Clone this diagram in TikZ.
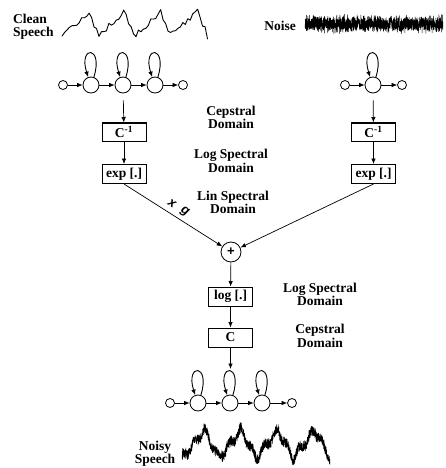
\documentclass[tikz,border=0pt]{standalone}
\usepackage{fontspec}
\setmainfont{Liberation Serif}
\newfontfamily\labsans{Liberation Sans}
\usetikzlibrary{arrows.meta}
\begin{document}
\begin{tikzpicture}[x=1pt,y=-1pt,
  declare function={
    ph(\xx,\pp)=mod(\xx,\pp)/\pp;
    sawv(\qq,\rr)=(\qq<\rr)?(\qq/\rr):((1-\qq)/(1-\rr));
  },
  lbl/.style={font=\fontsize{13.5}{13.5}\selectfont\bfseries, align=center, inner sep=0pt, anchor=base},
  state/.style={circle, draw, line width=0.8pt, minimum size=16pt, inner sep=0pt},
  endst/.style={circle, draw, line width=0.8pt, minimum size=9pt, inner sep=0pt},
  box/.style={draw, line width=1pt, minimum width=44pt, minimum height=19pt, inner sep=0pt,
              font=\fontsize{13.5}{13.5}\selectfont\bfseries},
  arr/.style={-{Latex[length=5.5pt,width=4.5pt]}, line width=0.7pt},
  selfloop/.style={arr, line width=0.9pt},
  gainlbl/.style={font=\labsans\fontsize{13}{13}\selectfont\bfseries\itshape, rotate=-33, inner sep=0pt},
  wave/.style={line join=round, line cap=round}
]
\useasboundingbox (0,0) rectangle (446,468);

% ---------- signals ----------
\pgfmathsetseed{11}
% multi-line labels: the base anchor sits on the last line
\node[lbl, align=left, anchor=base west] (cleanlbl) at (13,37) {Clean\\Speech};
\draw[wave, line width=0.9pt] plot[domain=62:207.5, samples=60]
  (\x, {36 - 24*sawv(ph(\x-62,36.4),0.72) + 3.6*rand});

\node[lbl] (noiselbl) at (280,31) {Noise};
\draw[wave, line width=0.5pt] plot[domain=305:443, samples=1200]
  (\x, {24 + (5+5*rnd)*rand});

\node[lbl] (noisylbl) at (155,463.5) {Noisy\\Speech};
\draw[wave, line width=0.5pt] plot[domain=182:330, samples=1400]
  (\x, {458 - 28*sawv(ph(\x-182,37),0.6) + 3.5*sin(\x*31) + (3.5+3*rnd)*rand});

% ---------- speech HMM ----------
\node[endst] (la0) at (63,85) {};
\node[state] (la1) at (91,85) {};
\node[state] (la2) at (123,85) {};
\node[state] (la3) at (155,85) {};
\node[endst] (la4) at (183,85) {};
\foreach \a/\b in {la0/la1,la1/la2,la2/la3,la3/la4} \draw[arr] (\a) -- (\b);
\foreach \s in {la1,la2,la3}
  \draw[selfloop] (\s.70) .. controls +(10,-32) and +(-10,-32) .. (\s.110);

% ---------- noise HMM ----------
\node[endst] (ra0) at (345,85) {};
\node[state] (ra1) at (373,85) {};
\node[endst] (ra2) at (402,85) {};
\draw[arr] (ra0) -- (ra1);
\draw[arr] (ra1) -- (ra2);
\draw[selfloop] (ra1.70) .. controls +(10,-32) and +(-10,-32) .. (ra1.110);

% ---------- transforms ----------
\node[box, minimum height=18pt] (lci) at (124,132) {C\textsuperscript{-1}};
\node[box] (lexp) at (124,174) {exp [.]};
\node[box, minimum height=18pt] (rci) at (373.5,132) {C\textsuperscript{-1}};
\node[box] (rexp) at (373.5,174) {exp [.]};

\draw[arr, shorten <=7pt] (la2) -- (lci);
\draw[arr, shorten <=7pt] (ra1) -- (rci);
\draw[arr] (lci) -- (lexp);
\draw[arr] (rci) -- (rexp);

\node[circle, draw, line width=0.8pt, minimum size=20pt, inner sep=0pt,
      font=\labsans\fontsize{13}{13}\selectfont\bfseries] (sum) at (231,252) {+};
\draw[arr] (lexp.south) -- (sum);
\draw[arr] (rexp.south) -- (sum);
% gain factor written along the speech branch
\node[gainlbl] (gainx) at (172,203.5) {x};
\node[gainlbl] (gaing) at (184.5,212) {g};

\node[box] (lg) at (230.5,296.5) {log [.]};
\node[box] (cc) at (230.5,337.5) {C};
\draw[arr] (sum) -- (lg);
\draw[arr] (lg) -- (cc);

% ---------- noisy speech HMM ----------
\node[endst] (b0) at (170,403) {};
\node[state] (b1) at (198,403) {};
\node[state] (b2) at (230,403) {};
\node[state] (b3) at (262,403) {};
\node[endst] (b4) at (292,403) {};
\foreach \a/\b in {b0/b1,b1/b2,b2/b3,b3/b4} \draw[arr] (\a) -- (\b);
\foreach \s in {b1,b2,b3}
  \draw[selfloop] (\s.70) .. controls +(10,-32) and +(-10,-32) .. (\s.110);
\coordinate (bin) at (230.5,369);
\draw[arr] (cc) -- (bin);

% ---------- domain labels ----------
\node[lbl] (d1) at (231,128.5) {Cepstral\\Domain};
\node[lbl] (d2) at (231,172) {Log Spectral\\Domain};
\node[lbl] (d3) at (233,213.5) {Lin Spectral\\Domain};
\node[lbl] (d4) at (320,305.5) {Log Spectral\\Domain};
\node[lbl] (d5) at (320,347) {Cepstral\\Domain};
\end{tikzpicture}
\end{document}
